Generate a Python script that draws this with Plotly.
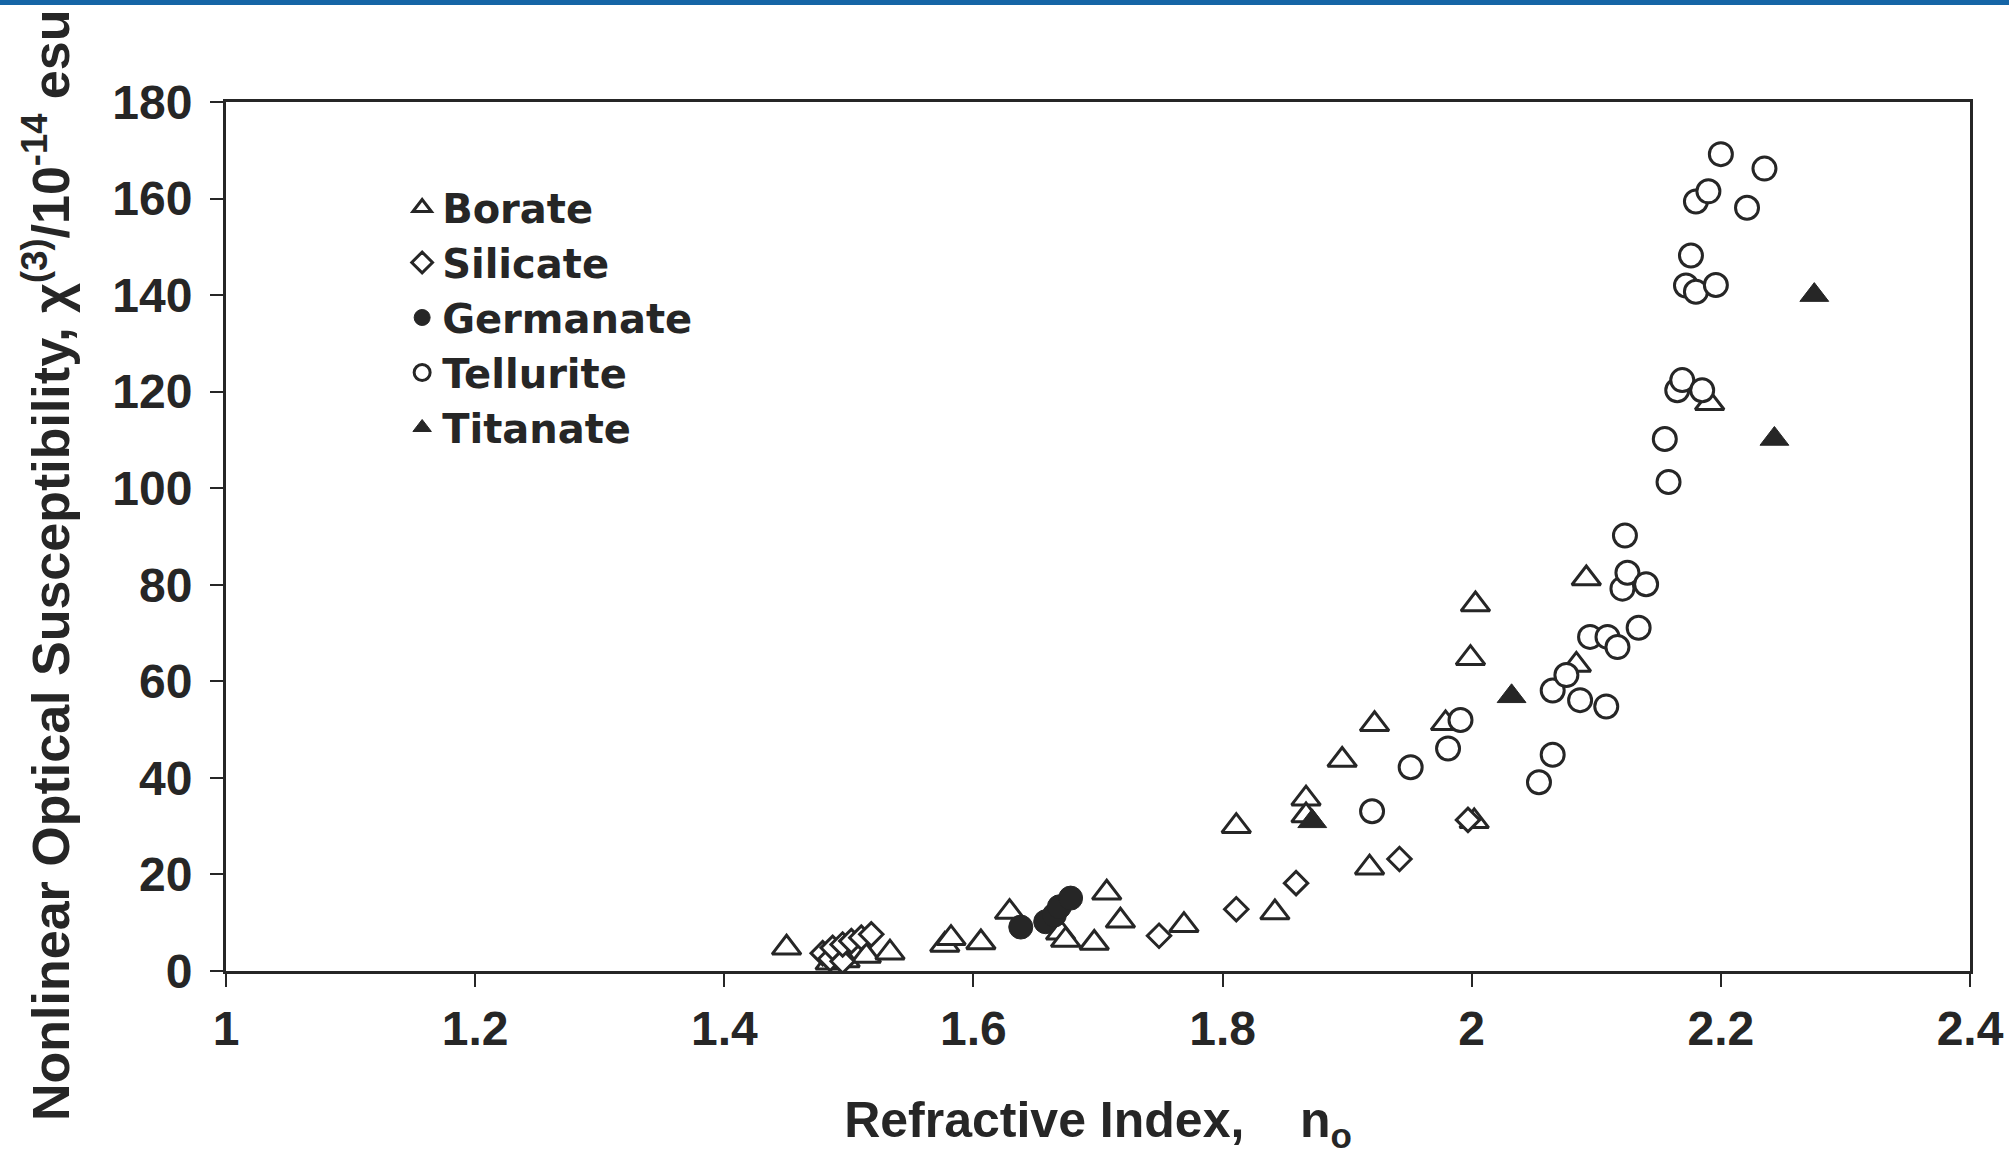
import plotly.graph_objects as go

# ---- data ----
borate_x = [1.450, 1.485, 1.497, 1.514, 1.533, 1.577, 1.582, 1.606, 1.629, 1.670,
            1.674, 1.697, 1.707, 1.718, 1.769, 1.811, 1.842, 1.867, 1.867, 1.896,
            1.918, 1.922, 1.979, 1.999, 2.003, 2.002, 2.084, 2.092, 2.191]
borate_y = [4.8, 1.7, 2.2, 3.1, 3.8, 5.4, 6.8, 5.9, 12.2, 7.9,
            6.4, 5.8, 16.2, 10.4, 9.5, 30.0, 12.1, 35.7, 32.2, 43.7,
            21.4, 51.1, 51.3, 64.8, 75.9, 31.0, 63.4, 81.3, 117.6]

silicate_x = [1.479, 1.485, 1.487, 1.495, 1.495, 1.502, 1.510, 1.518,
              1.749, 1.811, 1.859, 1.942, 1.997]
silicate_y = [3.7, 2.5, 4.8, 2.0, 5.5, 6.2, 6.9, 7.6,
              7.3, 12.8, 18.2, 23.2, 31.3]

germanate_x = [1.638, 1.658, 1.665, 1.669, 1.678]
germanate_y = [9.1, 10.2, 11.6, 13.3, 15.1]

tellurite_x = [1.920, 1.951, 1.981, 1.991, 2.054, 2.065, 2.065, 2.076, 2.087, 2.095,
               2.109, 2.117, 2.108, 2.121, 2.125, 2.123, 2.140, 2.134, 2.158, 2.155,
               2.165, 2.169, 2.185, 2.172, 2.180, 2.196, 2.176, 2.180, 2.190, 2.221,
               2.200, 2.235]
tellurite_y = [33.1, 42.2, 46.1, 52.0, 39.1, 44.8, 58.1, 61.3, 56.1, 69.2,
               69.2, 67.1, 54.8, 79.2, 82.5, 90.2, 80.1, 71.1, 101.3, 110.2,
               120.3, 122.4, 120.3, 142.0, 140.7, 142.1, 148.2, 159.4, 161.5, 158.1,
               169.2, 166.2]

titanate_x = [1.872, 2.032, 2.243, 2.275]
titanate_y = [31.0, 56.9, 110.2, 140.0]

x_ticks = [1, 1.2, 1.4, 1.6, 1.8, 2, 2.2, 2.4]
x_tick_text = ["1", "1.2", "1.4", "1.6", "1.8", "2", "2.2", "2.4"]
y_ticks = [0, 20, 40, 60, 80, 100, 120, 140, 160, 180]

INK = "#262626"
FONT = "Liberation Sans, Arial, Helvetica, sans-serif"
LEGEND_FONT = "DejaVu Sans, Liberation Sans, Arial, sans-serif"

fig = go.Figure()

fig.add_trace(go.Scatter(
    x=borate_x, y=borate_y, mode="markers", name="Borate",
    marker=dict(symbol="triangle-up", size=25, color="white",
                line=dict(color=INK, width=3))))
fig.add_trace(go.Scatter(
    x=silicate_x, y=silicate_y, mode="markers", name="Silicate",
    marker=dict(symbol="diamond", size=18, color="white",
                line=dict(color=INK, width=3))))
fig.add_trace(go.Scatter(
    x=germanate_x, y=germanate_y, mode="markers", name="Germanate",
    marker=dict(symbol="circle", size=24, color=INK,
                line=dict(color=INK, width=1))))
fig.add_trace(go.Scatter(
    x=tellurite_x, y=tellurite_y, mode="markers", name="Tellurite",
    marker=dict(symbol="circle", size=23, color="white",
                line=dict(color=INK, width=3))))
fig.add_trace(go.Scatter(
    x=titanate_x, y=titanate_y, mode="markers", name="Titanate",
    marker=dict(symbol="triangle-up", size=25, color=INK,
                line=dict(color=INK, width=1))))

PLOT_L, PLOT_T, PLOT_W, PLOT_H = 226, 102, 1744, 869

fig.update_layout(
    width=2009, height=1155,
    paper_bgcolor="white", plot_bgcolor="white",
    margin=dict(l=PLOT_L, r=2009 - PLOT_L - PLOT_W, t=PLOT_T, b=1155 - PLOT_T - PLOT_H,
                autoexpand=False),
    font=dict(family=FONT, color=INK, size=48, weight="bold"),
    showlegend=True,
    legend=dict(x=0.101, y=0.916, xanchor="left", yanchor="top",
                bgcolor="rgba(0,0,0,0)", borderwidth=0,
                font=dict(family=LEGEND_FONT, size=40, color=INK, weight="bold"),
                itemsizing="trace", tracegroupgap=0),
    xaxis=dict(
        range=[1, 2.4], tickmode="array", tickvals=x_ticks, ticktext=x_tick_text,
        showgrid=False, zeroline=False, automargin=False,
        showline=True, linecolor=INK, linewidth=3, mirror=True,
        ticks="outside", ticklen=13, tickwidth=2, tickcolor=INK,
        ticklabelstandoff=0, ticklabeloverflow="allow",
        tickfont=dict(family=FONT, size=48, color=INK, weight="bold"),
        title=dict(text="Refractive Index,&nbsp;&nbsp;&nbsp; n<sub>o</sub>",
                   font=dict(family=FONT, size=50, color=INK, weight="bold"),
                   standoff=50),
    ),
    yaxis=dict(
        range=[0, 180], tickmode="array", tickvals=y_ticks,
        showgrid=False, zeroline=False, automargin=False,
        showline=True, linecolor=INK, linewidth=3, mirror=True,
        ticks="outside", ticklen=13, tickwidth=2, tickcolor=INK,
        ticklabelstandoff=8,
        tickfont=dict(family=FONT, size=48, color=INK, weight="bold"),
    ),
    annotations=[dict(
        text="Nonlinear Optical Susceptibility, χ<sup>(3)</sup>/10<sup>-14</sup> esu",
        textangle=-90, xref="paper", yref="paper",
        x=(47 - PLOT_L) / PLOT_W, y=(PLOT_T + PLOT_H - 566) / PLOT_H,
        xanchor="center", yanchor="middle", showarrow=False,
        font=dict(family=FONT, size=52, color=INK, weight="bold"))],
    shapes=[dict(type="rect", xref="paper", yref="paper",
                 x0=-0.14, x1=1.03, y0=(PLOT_T + PLOT_H - 5) / PLOT_H,
                 y1=(PLOT_T + PLOT_H + 10) / PLOT_H,
                 fillcolor="#1565a6", line=dict(width=0), layer="above")],
)

fig.write_html("out.html", config={"displayModeBar": False},
               post_script="document.body.style.margin='0px';")
